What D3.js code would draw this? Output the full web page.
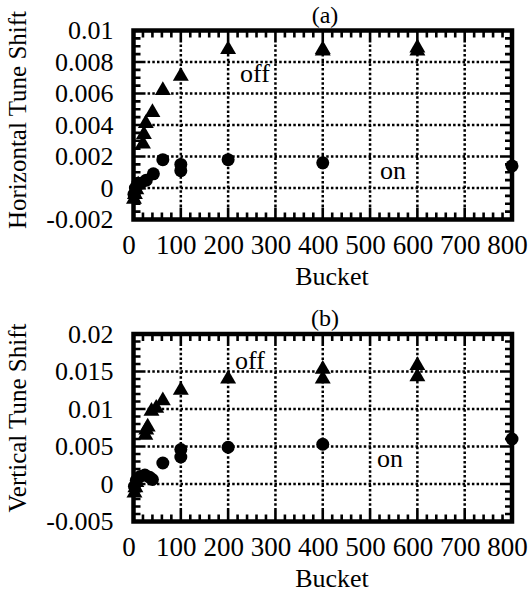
<!DOCTYPE html>
<html>
<head>
<meta charset="utf-8">
<script src="https://cdn.jsdelivr.net/npm/d3@7"></script>
<style>
  body { margin: 0; background: #fff; }
</style>
</head>
<body>
<svg id="chart" width="529" height="593"></svg>
<script>
// bucket axis
var bucketTicks = [0, 100, 200, 300, 400, 500, 600, 700, 800];

// (a) horizontal tune shift, [bucket, shift]
var hTicks = [-0.002, 0, 0.002, 0.004, 0.006, 0.008, 0.01];
var hOff = [[1, -0.0007], [3, -0.0004], [6, -0.0001], [10, 0.0002], [20, 0.0028], [22, 0.0034],
            [26, 0.0041], [40, 0.0048], [62, 0.0062], [100, 0.0071], [200, 0.0088],
            [400, 0.0087], [400, 0.0088], [600, 0.0087], [600, 0.0089]];
var hOn = [[1, -0.0004], [4, 0.0], [9, 0.0003], [15, 0.0003], [27, 0.0005], [42, 0.0009],
           [62, 0.0018], [100, 0.0011], [100, 0.0015], [200, 0.0018], [400, 0.0016], [800, 0.0014]];

// (b) vertical tune shift
var vTicks = [-0.005, 0, 0.005, 0.01, 0.015, 0.02];
var vOff = [[2, -0.0012], [4, -0.0005], [6, 0.0002], [25, 0.0065], [27, 0.0072], [30, 0.0076],
            [38, 0.0097], [48, 0.0101], [62, 0.0111], [100, 0.0125], [200, 0.014],
            [400, 0.014], [400, 0.0153], [600, 0.0143], [600, 0.0158]];
var vOn = [[2, -0.0003], [6, 0.0005], [14, 0.001], [24, 0.0012], [34, 0.0009], [40, 0.0006],
           [62, 0.0028], [100, 0.0036], [100, 0.0046], [200, 0.0049], [400, 0.0053], [800, 0.006]];

var FONT = "'Liberation Serif', 'Times New Roman', Times, serif";
var svg = d3.select("#chart");

function fmt(d) { return String(+d.toFixed(4)); }

function panel(opt) {
  var x = d3.scaleLinear().domain([0, 800]).range([133.5, 512]);
  var y = d3.scaleLinear().domain(opt.domain).range(opt.yRange);
  var x0 = x.range()[0], x1 = x.range()[1];
  var y0 = opt.yRange[1], y1 = opt.yRange[0];
  var g = svg.append("g");

  // frame, ticks and dotted grid all as boxes [x, y, w, h] in one path
  var boxes = [];
  var fw = 4.5;
  boxes.push([x0 - fw / 2, y0 - fw / 2, x1 - x0 + fw, fw]);
  boxes.push([x0 - fw / 2, y1 - fw / 2, x1 - x0 + fw, fw]);
  boxes.push([x0 - fw / 2, y0 - fw / 2, fw, y1 - y0 + fw]);
  boxes.push([x1 - fw / 2, y0 - fw / 2, fw, y1 - y0 + fw]);

  var tw = 2.6;
  var minorX = d3.range(0, 801, 20);
  var minorY = d3.range(0, Math.round((opt.domain[1] - opt.domain[0]) / opt.minor) + 1)
    .map(function(i) { return opt.domain[0] + i * opt.minor; });
  minorX.forEach(function(v) {
    var len = bucketTicks.indexOf(v) >= 0 ? 12 : 7;
    boxes.push([x(v) - tw / 2, y1 - len, tw, len]);
    boxes.push([x(v) - tw / 2, y0, tw, len]);
  });
  minorY.forEach(function(v) {
    var len = opt.ticks.some(function(t) { return Math.abs(t - v) < 1e-9; }) ? 12 : 7;
    boxes.push([x0, y(v) - tw / 2, len, tw]);
    boxes.push([x1 - len, y(v) - tw / 2, len, tw]);
  });

  var dot = 2.5, step = 4.7;
  bucketTicks.slice(1, -1).forEach(function(v) {
    d3.range(y0, y1, step).forEach(function(p) { boxes.push([x(v) - dot / 2, p, dot, dot]); });
  });
  opt.ticks.slice(1, -1).forEach(function(v) {
    d3.range(x0, x1, step).forEach(function(p) { boxes.push([p, y(v) - dot / 2, dot, dot]); });
  });

  var p = d3.path();
  boxes.forEach(function(b) { p.rect(b[0], b[1], b[2], b[3]); });
  g.append("path").attr("d", p.toString()).attr("fill", "#000");

  // tick labels
  var lx = g.append("g").attr("transform", "translate(-5," + y1 + ")")
    .call(d3.axisBottom(x).tickValues(bucketTicks).tickSize(0).tickPadding(15).tickFormat(d3.format("d")));
  lx.select(".domain").remove();
  lx.selectAll("text").style("font-size", "27px").style("font-family", FONT).attr("fill", "#000");
  var ly = g.append("g").attr("transform", "translate(" + x0 + ",0)")
    .call(d3.axisLeft(y).tickValues(opt.ticks).tickSize(0).tickPadding(20).tickFormat(fmt));
  ly.select(".domain").remove();
  ly.selectAll("text").style("font-size", "26px").style("font-family", FONT).attr("fill", "#000");

  function label(px, py, size, s) {
    return g.append("text").attr("x", px).attr("y", py).attr("text-anchor", "middle")
      .style("font-family", FONT).style("font-size", size + "px").attr("fill", "#000").text(s);
  }
  // titles
  label(332, y1 + 65, 26, "Bucket");
  label(0, 0, 25, opt.title).attr("transform", "translate(26," + opt.titleY + ") rotate(-90)");
  label(325, y0 - 8, 24, opt.tag);
  label(opt.offPos[0], opt.offPos[1], 26, "off");
  label(opt.onPos[0], opt.onPos[1], 26, "on");

  // markers
  g.append("g").selectAll("path").data(opt.off).join("path")
    .attr("transform", function(d) { return "translate(" + x(d[0]) + "," + y(d[1]) + ")"; })
    .attr("d", d3.symbol().type(d3.symbolTriangle).size(110))
    .attr("fill", "#000");
  g.append("g").selectAll("circle").data(opt.on).join("circle")
    .attr("cx", function(d) { return x(d[0]); })
    .attr("cy", function(d) { return y(d[1]); })
    .attr("r", 6.5).attr("fill", "#000");
}

panel({ domain: [-0.002, 0.01], yRange: [219.5, 30.5], ticks: hTicks, minor: 0.0005,
        off: hOff, on: hOn, title: "Horizontal Tune Shift", titleY: 120, tag: "(a)",
        offPos: [255, 82], onPos: [393, 179] });
panel({ domain: [-0.005, 0.02], yRange: [521.5, 334], ticks: vTicks, minor: 0.001,
        off: vOff, on: vOn, title: "Vertical Tune Shift", titleY: 418, tag: "(b)",
        offPos: [250, 369], onPos: [390, 467] });
</script>
</body>
</html>
